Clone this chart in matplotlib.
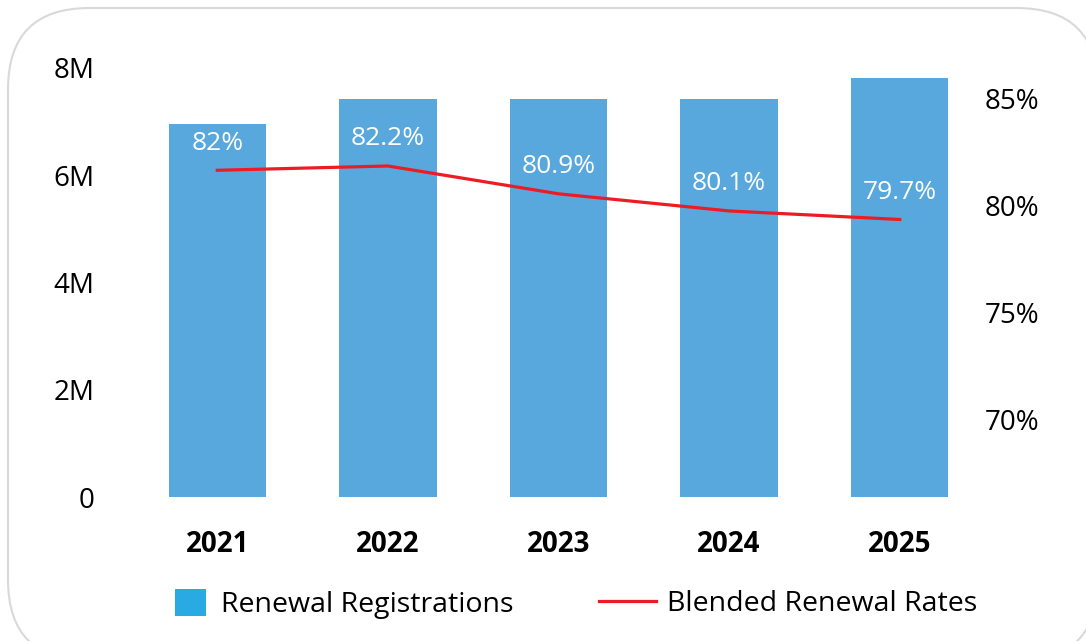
import matplotlib.pyplot as plt
from matplotlib.patches import FancyBboxPatch, Patch
from matplotlib.lines import Line2D
from matplotlib.transforms import ScaledTranslation

years = ['2021', '2022', '2023', '2024', '2025']
registrations = [6.96e6, 7.42e6, 7.42e6, 7.42e6, 7.81e6]
renewal_rates = [82.0, 82.2, 80.9, 80.1, 79.7]
rate_labels = ['82%', '82.2%', '80.9%', '80.1%', '79.7%']

left_ticks = [0, 2e6, 4e6, 6e6, 8e6]
left_tick_labels = ['0', '2M', '4M', '6M', '8M']
right_ticks = [70, 75, 80, 85]
right_tick_labels = ['70%', '75%', '80%', '85%']

bar_color = '#58a8dd'
legend_blue = '#29aae2'
line_red = '#ed1c24'

plt.rcParams['font.family'] = ['Open Sans', 'DejaVu Sans']

fig = plt.figure(figsize=(10.86, 6.41), dpi=100)

# card background
card = FancyBboxPatch((8 / 1086, -20 / 641), 1090 / 1086, 653 / 641,
                      boxstyle='round,pad=0,rounding_size=0.075',
                      transform=fig.transFigure, facecolor='white',
                      edgecolor='#d9d9d9', linewidth=1.5, zorder=-5,
                      mutation_aspect=1086 / 641)
fig.patches.append(card)

ax = fig.add_axes([132 / 1086, 144 / 641, 853 / 1086, 429 / 641])
ax.patch.set_alpha(0)
x = list(range(len(years)))
ax.bar(x, registrations, width=0.57, color=bar_color, zorder=2)
ax.set_xlim(-0.5, 4.5)
ax.set_ylim(0, 8e6)
ax.set_yticks(left_ticks)
ax.set_yticklabels(left_tick_labels)
ax.set_xticks(x)
ax.set_xticklabels(years, fontweight='bold')
ax.tick_params(axis='y', length=0, pad=27, labelsize=20)
ax.tick_params(axis='x', length=0, pad=24, labelsize=20)
for s in ax.spines.values():
    s.set_visible(False)

ax2 = ax.twinx()
ax2.plot(x, renewal_rates, color=line_red, linewidth=2.3, zorder=3)
ax2.set_ylim(66.73, 86.78)
ax2.set_yticks(right_ticks)
ax2.set_yticklabels(right_tick_labels)
ax2.tick_params(axis='y', length=0, pad=0, labelsize=20)
# right labels sit a little above their tick in the original
shift = ScaledTranslation(0, 8 / 100, fig.dpi_scale_trans)
for lab in ax2.get_yticklabels():
    lab.set_transform(lab.get_transform() + shift)
for s in ax2.spines.values():
    s.set_visible(False)

for xi, v, lab in zip(x, renewal_rates, rate_labels):
    ax2.annotate(lab, (xi, v), xytext=(0, 19.5), textcoords='offset points',
                 ha='center', va='center', color='white', fontsize=19)

leg_y = 1 - 604 / 641
leg1 = fig.legend([Patch(facecolor=legend_blue, edgecolor='none')],
                  ['Renewal Registrations'], loc='center left',
                  bbox_to_anchor=(175 / 1086, leg_y), frameon=False,
                  fontsize=20.5, handlelength=1.09, handleheight=1.09,
                  handletextpad=0.53, borderpad=0, borderaxespad=0)
leg2 = fig.legend([Line2D([], [], color=line_red, linewidth=2.3)],
                  ['Blended Renewal Rates'], loc='center left',
                  bbox_to_anchor=(599 / 1086, leg_y), frameon=False,
                  fontsize=20.5, handlelength=2.0, handletextpad=0.39,
                  borderpad=0, borderaxespad=0)

fig.savefig('out.png', dpi=100)
